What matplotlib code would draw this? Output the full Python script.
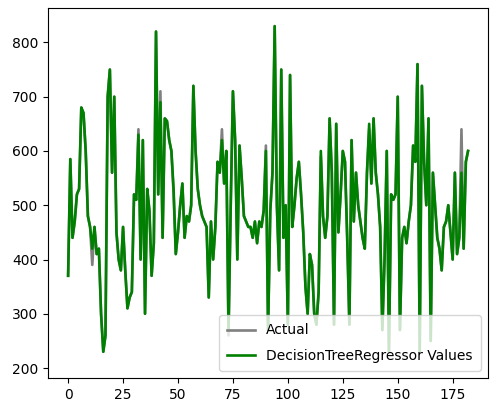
import numpy as np
import matplotlib.pyplot as plt

# predicted values
predicted = [370, 585, 440, 470, 520, 530, 680, 670, 600, 480,
             460, 420, 460, 410, 420, 300, 230, 260, 700, 750,
             560, 700, 450, 400, 380, 460, 380, 310, 330, 340,
             520, 510, 630, 400, 620, 300, 530, 490, 370, 430,
             820, 520, 690, 440, 660, 655, 620, 600, 530, 410,
             450, 500, 540, 440, 480, 470, 500, 720, 600, 530,
             500, 480, 470, 460, 330, 470, 400, 460, 580, 560,
             620, 540, 600, 270, 500, 710, 620, 400, 610, 550,
             480, 470, 460, 460, 440, 470, 430, 470, 460, 490,
             600, 270, 490, 560, 830, 500, 380, 750, 440, 500,
             280, 740, 460, 500, 550, 580, 520, 450, 350, 300,
             410, 390, 300, 280, 340, 600, 480, 440, 480, 660,
             560, 280, 650, 450, 520, 600, 580, 440, 280, 620,
             470, 560, 500, 470, 440, 420, 560, 650, 540, 660,
             560, 520, 460, 270, 400, 600, 230, 520, 510, 520,
             700, 270, 440, 460, 430, 470, 500, 610, 580, 760,
             230, 720, 580, 500, 660, 250, 560, 500, 440, 420,
             380, 460, 470, 500, 450, 400, 560, 410, 440, 560,
             420, 580, 600]

# actual differs from the prediction at a few points
actual = list(predicted)
for idx, val in [(11, 390), (32, 640), (42, 710), (70, 640), (73, 260),
                 (90, 610), (137, 640), (179, 640), (115, 590), (48, 520)]:
    actual[idx] = val

x = np.arange(len(predicted))

fig = plt.figure(figsize=(4.91, 4.12), dpi=100)
ax = fig.add_axes([0.098, 0.083, 0.896, 0.897])
ax.plot(x, actual, color='grey', lw=1.9, label='Actual')
ax.plot(x, predicted, color='green', lw=1.9, label='DecisionTreeRegressor Values')
ax.set_ylim(182, 863)
ax.set_xticks([0, 25, 50, 75, 100, 125, 150, 175])
ax.set_yticks([200, 300, 400, 500, 600, 700, 800])
ax.tick_params(labelsize=10)
ax.legend(loc='lower right', fontsize=10, framealpha=0.8,
          labelspacing=0.8, borderpad=0.6)
fig.savefig('out.png')
